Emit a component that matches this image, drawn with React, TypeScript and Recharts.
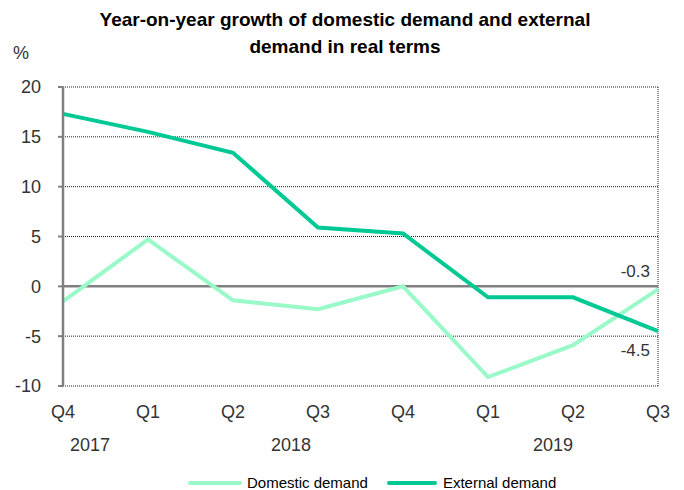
import { CartesianGrid, Line, LineChart, ReferenceLine, XAxis, YAxis } from 'recharts'

const quarters = ['2017Q4', '2018Q1', '2018Q2', '2018Q3', '2018Q4', '2019Q1', '2019Q2', '2019Q3']
const domesticDemand = [-1.5, 4.7, -1.4, -2.3, 0.0, -9.1, -5.9, -0.3]
const externalDemand = [17.3, 15.5, 13.4, 5.9, 5.3, -1.1, -1.1, -4.5]
const yTicks = [-10, -5, 0, 5, 10, 15, 20]
const yearLabels = [
  { year: '2017', at: '2017Q4', dx: 27 },
  { year: '2018', at: '2018Q2', dx: 58 },
  { year: '2019', at: '2019Q1', dx: 65 },
]

const data = quarters.map((q, i) => ({
  q,
  domestic: domesticDemand[i],
  external: externalDemand[i],
}))

const FONT = "'Liberation Sans Narrow', 'Arial Narrow', 'Liberation Sans', Arial, sans-serif"
const DOMESTIC = '#99f9c9'
const EXTERNAL = '#00c994'
const TEXT = '#333333'

function QuarterTick(props: any) {
  const { x, y, payload } = props
  const q = payload.value as string
  const year = yearLabels.find((y0) => y0.at === q)
  return (
    <g>
      <text x={x} y={y + 24} textAnchor="middle" fontSize={18} fill={TEXT} fontFamily={FONT}>
        {q.slice(4)}
      </text>
      {year && (
        <text x={x + year.dx} y={y + 57} textAnchor="middle" fontSize={18} fill={TEXT} fontFamily={FONT}>
          {year.year}
        </text>
      )}
    </g>
  )
}

function endLabel(offset: number) {
  return (props: any) => {
    const { x, y, index, value } = props
    if (index !== quarters.length - 1) return null
    return (
      <text x={x - 8} y={y + offset} textAnchor="end" fontSize={17} fill={TEXT} fontFamily={FONT}>
        {Number(value).toFixed(1)}
      </text>
    )
  }
}

export default function App() {
  return (
    <div style={{ position: 'fixed', left: 0, top: 0, width: 684, height: 490, background: '#fff', fontFamily: FONT, overflow: 'hidden' }}>
      <div
        style={{
          position: 'absolute',
          left: 6,
          width: 678,
          top: 6,
          textAlign: 'center',
          fontWeight: 700,
          fontSize: 19,
          lineHeight: '27px',
          color: '#000',
        }}
      >
        Year-on-year growth of domestic demand and external
        <br />
        demand in real terms
      </div>
      <div style={{ position: 'absolute', left: 13, top: 43, fontSize: 18, color: TEXT }}>%</div>
      <LineChart width={684} height={490} data={data} margin={{ top: 87, right: 26, left: 0, bottom: 0 }}>
        <CartesianGrid vertical={false} stroke="#222" strokeDasharray="1 1" />
        <XAxis
          dataKey="q"
          height={104}
          axisLine={false}
          tickLine={false}
          interval={0}
          tick={<QuarterTick />}
        />
        <YAxis
          domain={[-10, 20]}
          ticks={yTicks}
          width={63}
          axisLine={{ stroke: '#808080', strokeWidth: 2.5 }}
          tickLine={{ stroke: '#808080', strokeWidth: 2 }}
          tickSize={5}
          tick={{ fill: TEXT, fontSize: 18, fontFamily: FONT }}
          tickMargin={17}
        />
        <ReferenceLine x="2019Q3" stroke="#222" strokeDasharray="1 1" />
        <ReferenceLine y={0} stroke="#808080" strokeWidth={2.5} />
        <Line
          dataKey="domestic"
          stroke={DOMESTIC}
          strokeWidth={4}
          dot={false}
          isAnimationActive={false}
          label={endLabel(-12)}
        />
        <Line
          dataKey="external"
          stroke={EXTERNAL}
          strokeWidth={4}
          dot={false}
          isAnimationActive={false}
          label={endLabel(25)}
        />
      </LineChart>
      <div style={{ position: 'absolute', top: 474, left: 188, display: 'flex', alignItems: 'center', fontSize: 15, lineHeight: '18px', color: '#000' }}>
        <span style={{ display: 'inline-block', width: 54, height: 4, borderRadius: 2, background: DOMESTIC, marginRight: 5 }} />
        <span>Domestic demand</span>
        <span style={{ display: 'inline-block', width: 50, height: 4, borderRadius: 2, background: EXTERNAL, margin: '0 6px 0 19px' }} />
        <span>External demand</span>
      </div>
    </div>
  )
}
